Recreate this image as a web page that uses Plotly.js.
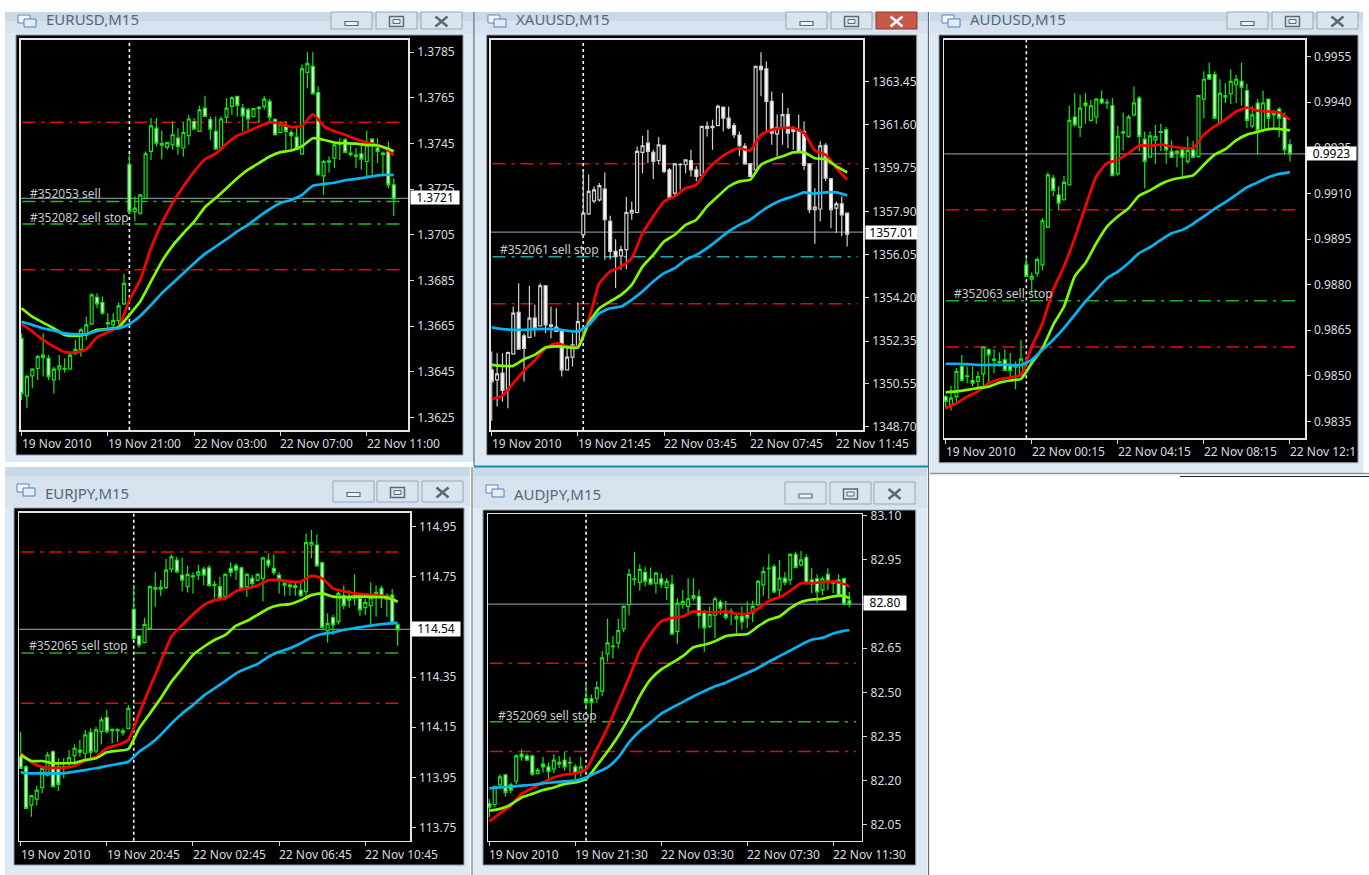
<!DOCTYPE html>
<html>
<head>
<meta charset="utf-8">
<script src="https://cdn.plot.ly/plotly-3.0.1.min.js"></script>
<style>html,body{margin:0;padding:0;background:#fff}#chart{width:1369px;height:875px}</style>
</head>
<body>
<div id="chart"></div>
<script>
// ---------- EURUSD ----------
const eurusdHigh=[1.36619,1.36437,1.36466,1.36524,1.36619,1.36524,1.36473,1.36524,1.36510,1.36531,1.36590,1.36641,1.36692,1.36794,1.36794,1.36780,1.36707,1.36707,1.36754,1.36879,1.37400,1.37218,1.37225,1.37415,1.37561,1.37561,1.37507,1.37454,1.37546,1.37517,1.37542,1.37576,1.37561,1.37615,1.37659,1.37568,1.37568,1.37568,1.37649,1.37656,1.37659,1.37624,1.37605,1.37605,1.37615,1.37656,1.37644,1.37561,1.37546,1.37546,1.37510,1.37517,1.37795,1.37849,1.37849,1.37700,1.37378,1.37393,1.37449,1.37473,1.37473,1.37449,1.37430,1.37444,1.37507,1.37473,1.37473,1.37415,1.37459,1.37298];
const eurusdOpen=[1.36597,1.36345,1.36433,1.36466,1.36524,1.36510,1.36415,1.36462,1.36462,1.36463,1.36531,1.36549,1.36612,1.36660,1.36777,1.36754,1.36660,1.36656,1.36675,1.36748,1.37357,1.37152,1.37145,1.37211,1.37415,1.37517,1.37443,1.37434,1.37444,1.37473,1.37430,1.37484,1.37546,1.37503,1.37605,1.37554,1.37503,1.37430,1.37565,1.37612,1.37656,1.37605,1.37597,1.37568,1.37602,1.37612,1.37634,1.37554,1.37498,1.37527,1.37498,1.37478,1.37403,1.37761,1.37787,1.37673,1.37308,1.37368,1.37386,1.37446,1.37466,1.37402,1.37393,1.37405,1.37371,1.37469,1.37430,1.37402,1.37415,1.37269];
const eurusdClose=[1.36356,1.36430,1.36462,1.36517,1.36514,1.36430,1.36462,1.36477,1.36466,1.36524,1.36549,1.36634,1.36656,1.36787,1.36748,1.36707,1.36666,1.36675,1.36739,1.36838,1.37152,1.37167,1.37225,1.37405,1.37527,1.37451,1.37449,1.37454,1.37488,1.37437,1.37498,1.37557,1.37513,1.37597,1.37568,1.37513,1.37425,1.37557,1.37605,1.37649,1.37615,1.37571,1.37557,1.37602,1.37608,1.37644,1.37565,1.37488,1.37536,1.37503,1.37484,1.37425,1.37776,1.37799,1.37668,1.37313,1.37371,1.37374,1.37444,1.37451,1.37411,1.37408,1.37399,1.37381,1.37444,1.37449,1.37415,1.37408,1.37269,1.37208];
const eurusdLow=[1.36327,1.36291,1.36379,1.36415,1.36430,1.36415,1.36356,1.36415,1.36447,1.36459,1.36524,1.36517,1.36590,1.36656,1.36729,1.36700,1.36641,1.36641,1.36641,1.36743,1.37145,1.37108,1.37138,1.37208,1.37378,1.37437,1.37381,1.37422,1.37422,1.37400,1.37393,1.37444,1.37510,1.37500,1.37565,1.37466,1.37422,1.37422,1.37542,1.37576,1.37568,1.37503,1.37510,1.37565,1.37539,1.37600,1.37546,1.37484,1.37495,1.37422,1.37422,1.37422,1.37400,1.37692,1.37663,1.37308,1.37225,1.37323,1.37342,1.37378,1.37408,1.37393,1.37342,1.37335,1.37308,1.37305,1.37364,1.37313,1.37254,1.37133];
const eurusdMaRed=[1.36660,1.36627,1.36590,1.36561,1.36537,1.36535,1.36549,1.36602,1.36624,1.36648,1.36765,1.36853,1.36992,1.37101,1.37189,1.37262,1.37327,1.37381,1.37405,1.37449,1.37484,1.37503,1.37524,1.37542,1.37536,1.37522,1.37527,1.37578,1.37527,1.37503,1.37488,1.37469,1.37454,1.37444,1.37419,1.37397];
const eurusdMaGreen=[1.36729,1.36692,1.36666,1.36641,1.36612,1.36608,1.36615,1.36634,1.36638,1.36646,1.36700,1.36758,1.36846,1.36933,1.37002,1.37057,1.37108,1.37171,1.37211,1.37254,1.37298,1.37335,1.37364,1.37393,1.37412,1.37419,1.37437,1.37473,1.37466,1.37454,1.37451,1.37449,1.37443,1.37441,1.37427,1.37415];
const eurusdMaBlue=[1.36670,1.36656,1.36641,1.36631,1.36619,1.36615,1.36615,1.36629,1.36637,1.36641,1.36660,1.36695,1.36743,1.36794,1.36838,1.36882,1.36926,1.36967,1.36999,1.37031,1.37065,1.37094,1.37130,1.37162,1.37189,1.37203,1.37225,1.37265,1.37272,1.37278,1.37289,1.37295,1.37302,1.37310,1.37313,1.37311];
const eurusdTickVals=[1.3785,1.3765,1.3745,1.3725,1.3705,1.3685,1.3665,1.3645,1.3625];
const eurusdTickText=["1.3785","1.3765","1.3745","1.3725","1.3705","1.3685","1.3665","1.3645","1.3625"];
const eurusdDates=["19 Nov 2010","19 Nov 21:00","22 Nov 03:00","22 Nov 07:00","22 Nov 11:00"];
const eurusdRedLevels=[1.37543,1.36897];
const eurusdOrderLevels=[1.37196,1.37097];

// ---------- XAUUSD ----------
const xauusdHigh=[1351.91,1351.84,1351.84,1351.91,1353.83,1354.83,1352.69,1354.72,1353.91,1354.83,1354.72,1353.83,1353.76,1352.84,1352.13,1352.69,1354.01,1359.70,1359.46,1358.96,1359.11,1359.56,1357.71,1356.71,1356.43,1358.51,1358.32,1360.67,1361.13,1361.38,1360.53,1361.07,1360.74,1359.75,1359.96,1359.96,1360.10,1360.53,1359.82,1361.56,1361.74,1361.81,1362.45,1362.38,1362.38,1361.67,1361.31,1360.81,1359.96,1364.12,1364.69,1364.30,1363.02,1362.03,1362.95,1362.31,1361.53,1362.03,1361.74,1359.96,1358.89,1360.89,1360.81,1359.32,1358.32,1358.54,1357.82];
const xauusdOpen=[1351.13,1350.70,1350.99,1350.27,1351.81,1353.58,1352.58,1352.52,1353.34,1353.01,1354.72,1352.98,1352.77,1352.84,1351.13,1351.67,1352.13,1356.90,1357.79,1358.35,1358.39,1358.85,1357.47,1356.19,1356.00,1356.26,1357.82,1357.85,1360.42,1360.81,1360.42,1360.07,1360.72,1359.67,1358.68,1359.89,1359.89,1360.07,1359.67,1359.42,1361.44,1361.47,1361.56,1362.35,1361.88,1361.56,1361.16,1360.67,1359.93,1359.67,1364.09,1363.98,1362.60,1361.21,1361.46,1362.03,1361.46,1361.38,1361.31,1359.92,1357.97,1358.00,1360.72,1359.29,1358.04,1358.22,1357.82];
const xauusdClose=[1350.63,1350.96,1350.25,1351.87,1353.55,1352.01,1352.05,1353.34,1352.91,1354.72,1353.05,1353.05,1352.95,1351.13,1351.67,1352.20,1353.19,1357.82,1358.75,1358.82,1359.00,1357.54,1356.19,1355.97,1356.26,1357.85,1357.94,1360.46,1360.70,1360.46,1360.03,1360.74,1359.60,1358.51,1359.93,1359.90,1360.10,1359.67,1359.39,1361.53,1361.53,1361.53,1362.38,1361.88,1361.46,1361.17,1360.70,1359.93,1359.39,1364.09,1363.95,1362.60,1361.24,1361.48,1362.03,1361.24,1361.31,1360.46,1359.86,1357.97,1358.08,1360.70,1359.32,1357.97,1358.22,1357.75,1356.93];
const xauusdLow=[1348.96,1349.56,1349.77,1349.49,1351.77,1352.01,1350.63,1352.48,1352.55,1352.98,1352.69,1352.48,1352.77,1350.84,1351.13,1351.27,1352.13,1356.83,1357.75,1358.25,1358.32,1355.83,1355.83,1354.62,1355.40,1355.43,1357.54,1357.82,1359.53,1359.96,1359.28,1359.89,1359.53,1358.39,1358.54,1358.82,1359.53,1359.39,1359.18,1359.32,1361.10,1360.53,1361.53,1361.31,1361.41,1361.03,1360.25,1359.89,1359.39,1359.53,1362.81,1361.24,1360.74,1360.25,1360.74,1360.60,1360.53,1360.39,1359.67,1357.82,1356.51,1357.47,1359.18,1357.18,1356.97,1356.83,1356.40];
const xauusdMaRed=[1349.89,1350.02,1350.56,1351.10,1351.53,1352.05,1352.27,1352.13,1352.13,1353.26,1354.83,1355.33,1355.54,1355.90,1356.97,1357.68,1358.32,1358.54,1358.89,1359.03,1359.67,1360.10,1360.42,1360.60,1360.50,1361.17,1361.38,1361.46,1361.46,1361.24,1360.50,1360.32,1359.75,1359.25];
const xauusdMaGreen=[1351.34,1351.30,1351.30,1351.58,1351.77,1352.08,1352.13,1352.10,1352.08,1353.12,1353.76,1354.05,1354.33,1354.76,1355.54,1356.04,1356.61,1356.90,1357.32,1357.54,1358.11,1358.54,1358.96,1359.18,1359.25,1359.89,1360.10,1360.25,1360.42,1360.42,1360.17,1360.13,1359.82,1359.56];
const xauusdMaBlue=[1352.94,1352.87,1352.84,1352.84,1352.87,1352.88,1352.87,1352.80,1352.77,1353.05,1353.55,1353.76,1353.83,1354.12,1354.48,1354.90,1355.26,1355.47,1355.83,1356.04,1356.33,1356.68,1357.04,1357.32,1357.54,1357.89,1358.18,1358.39,1358.54,1358.71,1358.65,1358.71,1358.71,1358.58];
const xauusdTickVals=[1363.45,1361.60,1359.75,1357.90,1356.05,1354.20,1352.35,1350.55,1348.70];
const xauusdTickText=["1363.45","1361.60","1359.75","1357.90","1356.05","1354.20","1352.35","1350.55","1348.70"];
const xauusdDates=["19 Nov 2010","19 Nov 21:45","22 Nov 03:45","22 Nov 07:45","22 Nov 11:45"];
const xauusdRedLevels=[1359.93,1353.95];
const xauusdOrderLevels=[1355.96];

// ---------- AUDUSD ----------
const audusdHigh=[0.98438,0.98468,0.98526,0.98569,0.98531,0.98531,0.98515,0.98597,0.98591,0.98588,0.98577,0.98588,0.98575,0.98547,0.98619,0.98887,0.98840,0.98890,0.99019,0.99169,0.99161,0.99123,0.99158,0.99388,0.99429,0.99424,0.99429,0.99408,0.99413,0.99438,0.99410,0.99413,0.99322,0.99366,0.99358,0.99451,0.99421,0.99303,0.99303,0.99325,0.99329,0.99318,0.99274,0.99243,0.99245,0.99287,0.99271,0.99424,0.99501,0.99530,0.99501,0.99475,0.99462,0.99508,0.99490,0.99530,0.99460,0.99386,0.99410,0.99438,0.99410,0.99375,0.99383,0.99366,0.99278];
const audusdOpen=[0.98432,0.98405,0.98432,0.98531,0.98498,0.98485,0.98482,0.98507,0.98586,0.98551,0.98544,0.98553,0.98533,0.98529,0.98504,0.98865,0.98818,0.98838,0.98865,0.98989,0.99150,0.99095,0.99079,0.99128,0.99351,0.99318,0.99397,0.99340,0.99351,0.99410,0.99397,0.99388,0.99164,0.99298,0.99287,0.99358,0.99413,0.99278,0.99219,0.99276,0.99300,0.99309,0.99238,0.99234,0.99243,0.99205,0.99243,0.99221,0.99410,0.99490,0.99490,0.99333,0.99416,0.99427,0.99457,0.99468,0.99438,0.99322,0.99397,0.99309,0.99410,0.99358,0.99377,0.99351,0.99260];
const audusdClose=[0.98416,0.98427,0.98515,0.98485,0.98500,0.98476,0.98498,0.98595,0.98569,0.98555,0.98547,0.98518,0.98518,0.98533,0.98555,0.98827,0.98827,0.98882,0.99010,0.99161,0.99110,0.99068,0.99136,0.99340,0.99325,0.99380,0.99388,0.99388,0.99410,0.99397,0.99399,0.99158,0.99287,0.99302,0.99351,0.99397,0.99287,0.99205,0.99289,0.99287,0.99303,0.99243,0.99219,0.99238,0.99219,0.99241,0.99219,0.99421,0.99475,0.99475,0.99347,0.99429,0.99421,0.99468,0.99475,0.99449,0.99340,0.99358,0.99307,0.99397,0.99347,0.99364,0.99347,0.99243,0.99230];
const audusdLow=[0.98394,0.98386,0.98416,0.98482,0.98476,0.98465,0.98460,0.98460,0.98476,0.98509,0.98531,0.98515,0.98498,0.98456,0.98500,0.98825,0.98772,0.98827,0.98847,0.98986,0.99090,0.99046,0.99076,0.99126,0.99320,0.99285,0.99329,0.99336,0.99329,0.99394,0.99377,0.99156,0.99158,0.99241,0.99282,0.99353,0.99238,0.99117,0.99217,0.99197,0.99238,0.99197,0.99216,0.99186,0.99158,0.99197,0.99216,0.99219,0.99347,0.99473,0.99344,0.99331,0.99397,0.99394,0.99397,0.99388,0.99314,0.99314,0.99227,0.99303,0.99311,0.99309,0.99285,0.99227,0.99205];
const audusdMaRed=[0.98394,0.98410,0.98432,0.98449,0.98476,0.98489,0.98495,0.98504,0.98597,0.98673,0.98783,0.98860,0.98953,0.99057,0.99156,0.99199,0.99210,0.99232,0.99257,0.99256,0.99260,0.99254,0.99249,0.99249,0.99293,0.99320,0.99342,0.99369,0.99382,0.99372,0.99369,0.99366,0.99342];
const audusdMaGreen=[0.98446,0.98449,0.98454,0.98460,0.98465,0.98478,0.98485,0.98490,0.98542,0.98591,0.98668,0.98728,0.98827,0.98871,0.98936,0.98991,0.99024,0.99051,0.99093,0.99110,0.99131,0.99145,0.99152,0.99159,0.99194,0.99227,0.99245,0.99274,0.99293,0.99302,0.99311,0.99312,0.99307];
const audusdMaBlue=[0.98540,0.98540,0.98539,0.98536,0.98536,0.98536,0.98536,0.98536,0.98553,0.98586,0.98619,0.98657,0.98701,0.98745,0.98783,0.98821,0.98843,0.98871,0.98904,0.98923,0.98947,0.98969,0.98980,0.99000,0.99024,0.99049,0.99071,0.99095,0.99120,0.99136,0.99153,0.99164,0.99170];
const audusdTickVals=[0.9955,0.9940,0.9925,0.9910,0.9895,0.9880,0.9865,0.9850,0.9835];
const audusdTickText=["0.9955","0.9940","0.9925","0.9910","0.9895","0.9880","0.9865","0.9850","0.9835"];
const audusdDates=["19 Nov 2010","22 Nov 00:15","22 Nov 04:15","22 Nov 08:15","22 Nov 12:1"];
const audusdRedLevels=[0.99046,0.98595];
const audusdOrderLevels=[0.98747];

// ---------- EURJPY ----------
const eurjpyHigh=[114.132,113.999,113.879,113.917,113.992,114.052,114.059,114.026,114.026,114.059,114.082,114.099,114.139,114.145,114.152,114.192,114.219,114.145,114.145,114.145,114.238,114.717,114.518,114.587,114.715,114.770,114.737,114.821,114.840,114.830,114.826,114.794,114.768,114.797,114.790,114.797,114.733,114.750,114.764,114.808,114.804,114.790,114.764,114.757,114.764,114.830,114.844,114.840,114.768,114.737,114.731,114.731,114.731,114.923,114.937,114.919,114.810,114.604,114.598,114.691,114.715,114.697,114.760,114.684,114.664,114.728,114.715,114.715,114.684,114.701,114.564];
const eurjpyOpen=[114.032,113.992,113.839,113.863,113.909,113.959,114.052,113.992,113.986,114.010,114.036,114.059,114.046,114.129,114.055,114.132,114.188,114.136,114.136,114.128,114.145,114.620,114.514,114.488,114.544,114.701,114.701,114.707,114.781,114.817,114.757,114.711,114.750,114.757,114.781,114.786,114.715,114.711,114.671,114.784,114.794,114.786,114.711,114.744,114.737,114.744,114.817,114.784,114.757,114.717,114.711,114.708,114.697,114.691,114.877,114.877,114.806,114.534,114.587,114.571,114.675,114.657,114.664,114.664,114.627,114.635,114.671,114.704,114.661,114.677,114.558];
const eurjpyClose=[113.986,113.826,113.877,113.899,113.986,114.039,113.913,113.922,113.992,114.028,114.066,114.050,114.119,114.050,114.139,114.179,114.132,114.141,114.141,114.135,114.225,114.504,114.478,114.560,114.711,114.707,114.708,114.777,114.830,114.770,114.737,114.760,114.754,114.770,114.757,114.715,114.720,114.667,114.760,114.768,114.777,114.704,114.760,114.724,114.760,114.826,114.797,114.768,114.741,114.724,114.717,114.715,114.675,114.887,114.887,114.794,114.547,114.564,114.558,114.684,114.635,114.664,114.671,114.618,114.648,114.667,114.688,114.671,114.675,114.568,114.538];
const eurjpyLow=[113.983,113.826,113.793,113.837,113.886,113.953,113.913,113.895,113.946,113.986,113.992,114.032,114.019,114.026,114.046,114.082,114.125,114.086,114.090,114.116,114.145,114.498,114.467,114.484,114.544,114.631,114.675,114.701,114.768,114.764,114.693,114.688,114.684,114.737,114.717,114.711,114.664,114.664,114.664,114.750,114.737,114.701,114.671,114.711,114.731,114.653,114.786,114.757,114.684,114.675,114.675,114.675,114.671,114.657,114.824,114.790,114.544,114.488,114.518,114.560,114.621,114.627,114.637,114.595,114.598,114.560,114.591,114.627,114.591,114.558,114.475];
const eurjpyMaRed=[114.046,114.010,113.991,113.988,113.988,113.995,114.016,114.032,114.066,114.079,114.099,114.205,114.308,114.411,114.511,114.558,114.600,114.637,114.657,114.664,114.693,114.704,114.715,114.737,114.737,114.731,114.731,114.754,114.744,114.704,114.693,114.684,114.680,114.677,114.671,114.651];
const eurjpyMaGreen=[114.039,114.015,114.015,114.006,114.006,114.008,114.019,114.026,114.050,114.056,114.063,114.145,114.205,114.265,114.332,114.385,114.438,114.471,114.498,114.518,114.555,114.574,114.598,114.624,114.637,114.641,114.657,114.677,114.684,114.671,114.669,114.671,114.671,114.669,114.668,114.651];
const eurjpyMaBlue=[113.970,113.966,113.966,113.966,113.966,113.973,113.979,113.986,113.995,114.003,114.012,114.052,114.082,114.119,114.165,114.205,114.238,114.276,114.305,114.334,114.365,114.385,114.402,114.431,114.451,114.465,114.485,114.508,114.522,114.528,114.538,114.546,114.552,114.558,114.563,114.566];
const eurjpyTickVals=[114.95,114.75,114.55,114.35,114.15,113.95,113.75];
const eurjpyTickText=["114.95","114.75","","114.35","114.15","113.95","113.75"];
const eurjpyDates=["19 Nov 2010","19 Nov 20:45","22 Nov 02:45","22 Nov 06:45","22 Nov 10:45"];
const eurjpyRedLevels=[114.849,114.246];
const eurjpyOrderLevels=[114.446];

// ---------- AUDJPY ----------
const audjpyHigh=[82.138,82.183,82.222,82.222,82.194,82.290,82.307,82.292,82.288,82.243,82.281,82.262,82.290,82.284,82.299,82.281,82.256,82.281,82.533,82.493,82.538,82.640,82.750,82.691,82.750,82.795,82.920,82.978,82.935,82.927,82.924,82.910,82.905,82.888,82.899,82.820,82.848,82.888,82.888,82.848,82.781,82.792,82.826,82.815,82.811,82.786,82.764,82.792,82.809,82.811,82.882,82.927,82.969,82.935,82.950,82.908,82.973,82.978,82.980,82.969,82.922,82.901,82.894,82.922,82.882,82.901,82.890,82.841];
const audjpyOpen=[82.121,82.119,82.186,82.220,82.186,82.198,82.290,82.284,82.284,82.225,82.256,82.247,82.239,82.256,82.270,82.260,82.247,82.228,82.478,82.478,82.480,82.504,82.631,82.655,82.668,82.716,82.798,82.883,82.874,82.908,82.886,82.871,82.886,82.856,82.868,82.707,82.800,82.792,82.829,82.826,82.773,82.724,82.762,82.807,82.766,82.773,82.750,82.758,82.766,82.769,82.798,82.865,82.920,82.927,82.848,82.888,82.882,82.969,82.933,82.958,82.882,82.886,82.848,82.901,82.871,82.882,82.886,82.811];
const audjpyClose=[82.110,82.180,82.213,82.160,82.168,82.284,82.281,82.270,82.222,82.236,82.247,82.231,82.270,82.262,82.247,82.262,82.225,82.247,82.465,82.465,82.516,82.617,82.668,82.657,82.710,82.792,82.901,82.886,82.918,82.877,82.868,82.905,82.868,82.877,82.698,82.803,82.809,82.818,82.820,82.762,82.719,82.764,82.818,82.786,82.755,82.775,82.758,82.739,82.753,82.792,82.877,82.910,82.922,82.841,82.888,82.874,82.969,82.924,82.950,82.871,82.868,82.841,82.886,82.877,82.877,82.829,82.800,82.800];
const audjpyLow=[82.076,82.110,82.180,82.146,82.157,82.189,82.268,82.268,82.217,82.220,82.228,82.200,82.225,82.243,82.234,82.228,82.205,82.213,82.442,82.409,82.465,82.487,82.604,82.615,82.649,82.705,82.762,82.863,82.845,82.860,82.868,82.837,82.854,82.815,82.696,82.665,82.784,82.766,82.811,82.716,82.638,82.719,82.685,82.764,82.747,82.728,82.702,82.713,82.719,82.739,82.792,82.829,82.818,82.837,82.826,82.863,82.865,82.922,82.927,82.865,82.837,82.803,82.829,82.848,82.837,82.826,82.798,82.789];
const audjpyMaRed=[82.062,82.089,82.115,82.155,82.175,82.194,82.211,82.220,82.225,82.239,82.307,82.380,82.465,82.550,82.640,82.698,82.741,82.753,82.758,82.775,82.773,82.773,82.775,82.767,82.767,82.784,82.811,82.823,82.845,82.871,82.871,82.874,82.877,82.868,82.860];
const audjpyMaGreen=[82.098,82.104,82.119,82.143,82.155,82.168,82.177,82.189,82.194,82.205,82.251,82.299,82.352,82.414,82.487,82.544,82.578,82.600,82.623,82.653,82.662,82.674,82.691,82.696,82.698,82.724,82.747,82.758,82.786,82.807,82.815,82.818,82.826,82.828,82.820];
const audjpyMaBlue=[82.174,82.177,82.180,82.183,82.186,82.191,82.194,82.198,82.200,82.211,82.228,82.245,82.279,82.330,82.369,82.397,82.428,82.448,82.467,82.487,82.504,82.521,82.533,82.550,82.566,82.583,82.604,82.623,82.642,82.662,82.679,82.685,82.700,82.709,82.711];
const audjpyTickVals=[83.10,82.95,82.80,82.65,82.50,82.35,82.20,82.05];
const audjpyTickText=["83.10","82.95","","82.65","82.50","82.35","82.20","82.05"];
const audjpyDates=["19 Nov 2010","19 Nov 21:30","22 Nov 03:30","22 Nov 07:30","22 Nov 11:30"];
const audjpyRedLevels=[82.599,82.299];
const audjpyOrderLevels=[82.400];

const W=1369,H=875;
const FONT='"Noto Sans", Roboto, sans-serif';
const DATE_BARS=[0,16,32,48,64];
const px=v=>v/W, py=v=>1-v/H;

const panels=[
 {name:"EURUSD,M15",h:eurusdHigh,o:eurusdOpen,c:eurusdClose,l:eurusdLow,r:eurusdMaRed,g:eurusdMaGreen,b:eurusdMaBlue,tv:eurusdTickVals,tt:eurusdTickText,d:eurusdDates,red:eurusdRedLevels,ord:eurusdOrderLevels,
  bid:1.3721,bidText:"1.3721",sep:20,box:[20.5,408.3,39.7,430],xr:[-0.19,71.7],yr:[1.36196,1.37904],dateY:443,up:"#10e810",
  orderColor:"#22c022",labels:[["#352053 sell",28,193],["#352082 sell stop",28,217]],bidBox:[434.5,197.5,48,13],
  win:[5,474,12,462],inner:[16,463,35,455],btnY:[12,29],btn:[331,376,421],icon:[18,14]},
 {name:"XAUUSD,M15",h:xauusdHigh,o:xauusdOpen,c:xauusdClose,l:xauusdLow,r:xauusdMaRed,g:xauusdMaGreen,b:xauusdMaBlue,tv:xauusdTickVals,tt:xauusdTickText,d:xauusdDates,red:xauusdRedLevels,ord:xauusdOrderLevels,
  bid:1357.01,bidText:"1357.01",sep:17,box:[490.7,863.3,39.7,430],xr:[-0.19,69.0],yr:[1348.56,1365.23],dateY:443,up:"#d0d0d0",
  orderColor:"#1fa8a8",labels:[["#352061 sell stop",498,249]],bidBox:[891,233,51,13],
  win:[475,928,12,466],inner:[486.7,916.7,35,455],btnY:[12,29],btn:[786,831,876],icon:[488,14],closeRed:true},
 {name:"AUDUSD,M15",h:audusdHigh,o:audusdOpen,c:audusdClose,l:audusdLow,r:audusdMaRed,g:audusdMaGreen,b:audusdMaBlue,tv:audusdTickVals,tt:audusdTickText,d:audusdDates,red:audusdRedLevels,ord:audusdOrderLevels,
  bid:0.9923,bidText:"0.9923",sep:15,box:[944.3,1305,39.7,438.3],xr:[-0.25,66.8],yr:[0.98295,0.99605],dateY:451,up:"#10e810",
  orderColor:"#22b322",labels:[["#352063 sell stop",952,293]],bidBox:[1331,153.5,49,13],
  win:[930,1363,12,473],inner:[939,1358,35,462.7],btnY:[12,29],btn:[1227,1272,1317],icon:[942,14]},
 {name:"EURJPY,M15",h:eurjpyHigh,o:eurjpyOpen,c:eurjpyClose,l:eurjpyLow,r:eurjpyMaRed,g:eurjpyMaGreen,b:eurjpyMaBlue,tv:eurjpyTickVals,tt:eurjpyTickText,d:eurjpyDates,red:eurjpyRedLevels,ord:eurjpyOrderLevels,
  bid:114.54,bidText:"114.54",sep:21,box:[19.3,410,512.7,840.7],xr:[-0.25,72.3],yr:[113.697,115.006],dateY:854,up:"#10e810",
  orderColor:"#22b322",labels:[["#352065 sell stop",27,645]],bidBox:[436,629,48,13.5],
  win:[5,470,467,875],inner:[14,464,508,865],btnY:[481,502],btn:[333,377,422],icon:[17,483]},
 {name:"AUDJPY,M15",h:audjpyHigh,o:audjpyOpen,c:audjpyClose,l:audjpyLow,r:audjpyMaRed,g:audjpyMaGreen,b:audjpyMaBlue,tv:audjpyTickVals,tt:audjpyTickText,d:audjpyDates,red:audjpyRedLevels,ord:audjpyOrderLevels,
  bid:82.80,bidText:"82.80",sep:18,box:[488,861.7,514.3,840.7],xr:[-0.25,69.3],yr:[81.996,83.105],dateY:854,up:"#10e810",
  orderColor:"#22b322",labels:[["#352069 sell stop",496,715]],bidBox:[885,603,42,13.5],
  win:[473,927,467,875],inner:[483,915.7,510,865],btnY:[482,504],btn:[785,830,874],icon:[486,484]}
];

const rect=(x0,x1,y0,y1,fill,lineColor,lw,extra)=>Object.assign({type:"rect",xref:"paper",yref:"paper",x0:px(x0),x1:px(x1),y0:py(y1),y1:py(y0),fillcolor:fill,line:{color:lineColor||fill,width:lw===undefined?0:lw},layer:"below"},extra||{});
const seg=(x0,x1,y0,y1,color,w)=>({type:"line",xref:"paper",yref:"paper",x0:px(x0),x1:px(x1),y0:py(y0),y1:py(y1),line:{color,width:w},layer:"below"});

const data=[],shapes=[],annotations=[],layout={};

// window chrome
panels.forEach((p,k)=>{
  const [wl,wr,wt,wb]=p.win,[il,ir,it,ib]=p.inner,[bt,bb]=p.btnY;
  shapes.push(rect(wl,wr,wt,wb,"#dde9f3"));
  shapes.push(rect(wl,wr,wt,wt+9,"#c9d9e7"));
  shapes.push(rect(wl,wr,wt+9,it-2,"#d6e3ef"));
  shapes.push(rect(il,ir,it,ib,"#000000","#8d9aa6",1));
  // icon
  shapes.push(rect(p.icon[0],p.icon[0]+12,p.icon[1]+1,p.icon[1]+9,"#f2f6fa","#5f86b5",1));
  shapes.push(rect(p.icon[0]+6,p.icon[0]+18,p.icon[1]+5,p.icon[1]+13,"#e2ecf6","#4f7fc0",1));
  // buttons
  p.btn.forEach((bx,j)=>{
    const red=p.closeRed&&j===2, w=41, cx=bx+w/2, cy=(bt+bb)/2+1;
    shapes.push(rect(bx,bx+w,bt,bb,red?"#c65a48":"#d9e4ee",red?"#8a3a2c":"#9aa8b5",1));
    if(j===0) shapes.push(rect(cx-6.5,cx+6.5,cy,cy+4,"#eef2f6","#5c6a78",1.2));
    if(j===1){shapes.push(rect(cx-7,cx+7,cy-5,cy+5,"#d9e4ee","#5c6a78",1.5));shapes.push(rect(cx-3.5,cx+3.5,cy-2,cy+2,"#e7edf3","#5c6a78",1));}
    if(j===2){shapes.push(seg(cx-6,cx+6,cy-5,cy+5,red?"#ffffff":"#5c6a78",2.6));shapes.push(seg(cx-6,cx+6,cy+5,cy-5,red?"#ffffff":"#5c6a78",2.6));}
  });
  annotations.push({xref:"paper",yref:"paper",x:px(p.icon[0]+26),y:py((bt+bb)/2+(k>2?1:-1.5)),xanchor:"left",yanchor:"middle",showarrow:false,text:p.name,font:{family:FONT,size:15,color:"#566778"}});
});
shapes.push(seg(474,474,12,466,"#5d6a75",1.2));
shapes.push(seg(474,928,466.5,466.5,"#178e9c",2));
shapes.push(seg(928.5,928.5,12,875,"#5d6a75",1.2));
shapes.push(seg(930,1369,473.5,473.5,"#8b949c",1.4));
shapes.push(seg(1180,1369,476.5,476.5,"#222222",1));
shapes.push(seg(472,472,467,875,"#6c7680",1.2));

panels.forEach((p,k)=>{
  const n=k===0?"":String(k+1), xa="x"+n, ya="y"+n;
  const [l,r,t,b]=p.box;
  const common={
    showgrid:false,zeroline:false,showline:true,mirror:true,linecolor:"#e4e4e4",linewidth:1.5,
    ticks:"outside",ticklen:4,tickwidth:1,tickcolor:"#d8d8d8",fixedrange:true
  };
  layout["xaxis"+n]=Object.assign({},common,{type:"linear",domain:[px(l),px(r)],range:p.xr,anchor:ya,tickmode:"array",tickvals:DATE_BARS,showticklabels:false,rangeslider:{visible:false}});
  layout["yaxis"+n]=Object.assign({},common,{type:"linear",domain:[py(b),py(t)],range:p.yr,anchor:xa,side:"right",tickmode:"array",tickvals:p.tv,ticktext:p.tt,ticklabelstandoff:1,tickfont:{family:FONT,size:12,color:"#d8dce0"}});

  const bars=p.c.map((_,i)=>i);
  data.push({type:"candlestick",xaxis:xa,yaxis:ya,x:bars,open:p.o,high:p.h,low:p.l,close:p.c,hoverinfo:"skip",showlegend:false,
    increasing:{line:{color:p.up,width:1.2},fillcolor:"#000000"},
    decreasing:{line:{color:p.up,width:1.2},fillcolor:k===1?"#ffffff":"#e6ffe6"}});

  // moving averages, read at every second bar plus the last bar
  const last=bars.length-1, maBars=bars.filter(i=>i%2===0||i===last);
  [[p.r,"#ff0000"],[p.g,"#7cfc00"],[p.b,"#06b4f0"]].forEach(([ys,color])=>{
    data.push({type:"scatter",mode:"lines",xaxis:xa,yaxis:ya,x:maBars,y:ys,line:{color,width:2.7,shape:"spline",smoothing:0.5},hoverinfo:"skip",showlegend:false});
  });

  // levels
  const hl=(v,color,w,dash)=>shapes.push({type:"line",xref:xa+" domain",yref:ya,x0:0.005,x1:0.985,y0:v,y1:v,line:{color,width:w,dash},layer:"below"});
  p.red.forEach(v=>hl(v,"#e00c0c",1.5,"13px,6px,3px,6px"));
  p.ord.forEach(v=>hl(v,p.orderColor,1.5,"13px,6px,3px,6px"));
  shapes.push({type:"line",xref:xa+" domain",yref:ya,x0:0,x1:1,y0:p.bid,y1:p.bid,line:{color:"#778899",width:1.3},layer:"below"});
  shapes.push({type:"line",xref:xa,yref:ya+" domain",x0:p.sep,x1:p.sep,y0:0,y1:1,line:{color:"#ffffff",width:1.6,dash:"3px,3px"},layer:"below"});

  // date labels (left aligned at their tick, as in the terminal)
  p.d.forEach((txt,j)=>annotations.push({xref:xa,yref:"paper",x:DATE_BARS[j],y:py(p.dateY),xanchor:"left",yanchor:"middle",xshift:-2,showarrow:false,text:txt,font:{family:FONT,size:12,color:"#d8dce0"}}));

  // order labels
  p.labels.forEach(([txt,lx,ly])=>annotations.push({xref:"paper",yref:"paper",x:px(lx),y:py(ly),xanchor:"left",yanchor:"middle",showarrow:false,text:txt,font:{family:FONT,size:12,color:"#c8ccd0"}}));

  // bid price tag
  const [cx,cy,bw,bh]=p.bidBox;
  annotations.push({xref:"paper",yref:"paper",x:px(cx),y:py(cy),xanchor:"center",yanchor:"middle",showarrow:false,text:p.bidText,width:bw,height:bh,bgcolor:"#ffffff",borderpad:0,font:{family:FONT,size:12,color:"#000000"}});
});

Object.assign(layout,{width:W,height:H,margin:{l:0,r:0,t:0,b:0},paper_bgcolor:"#ffffff",plot_bgcolor:"#000000",showlegend:false,hovermode:false,boxgap:0.22,shapes,annotations});
Plotly.newPlot("chart",data,layout,{displayModeBar:false,staticPlot:true});
</script>
</body>
</html>
